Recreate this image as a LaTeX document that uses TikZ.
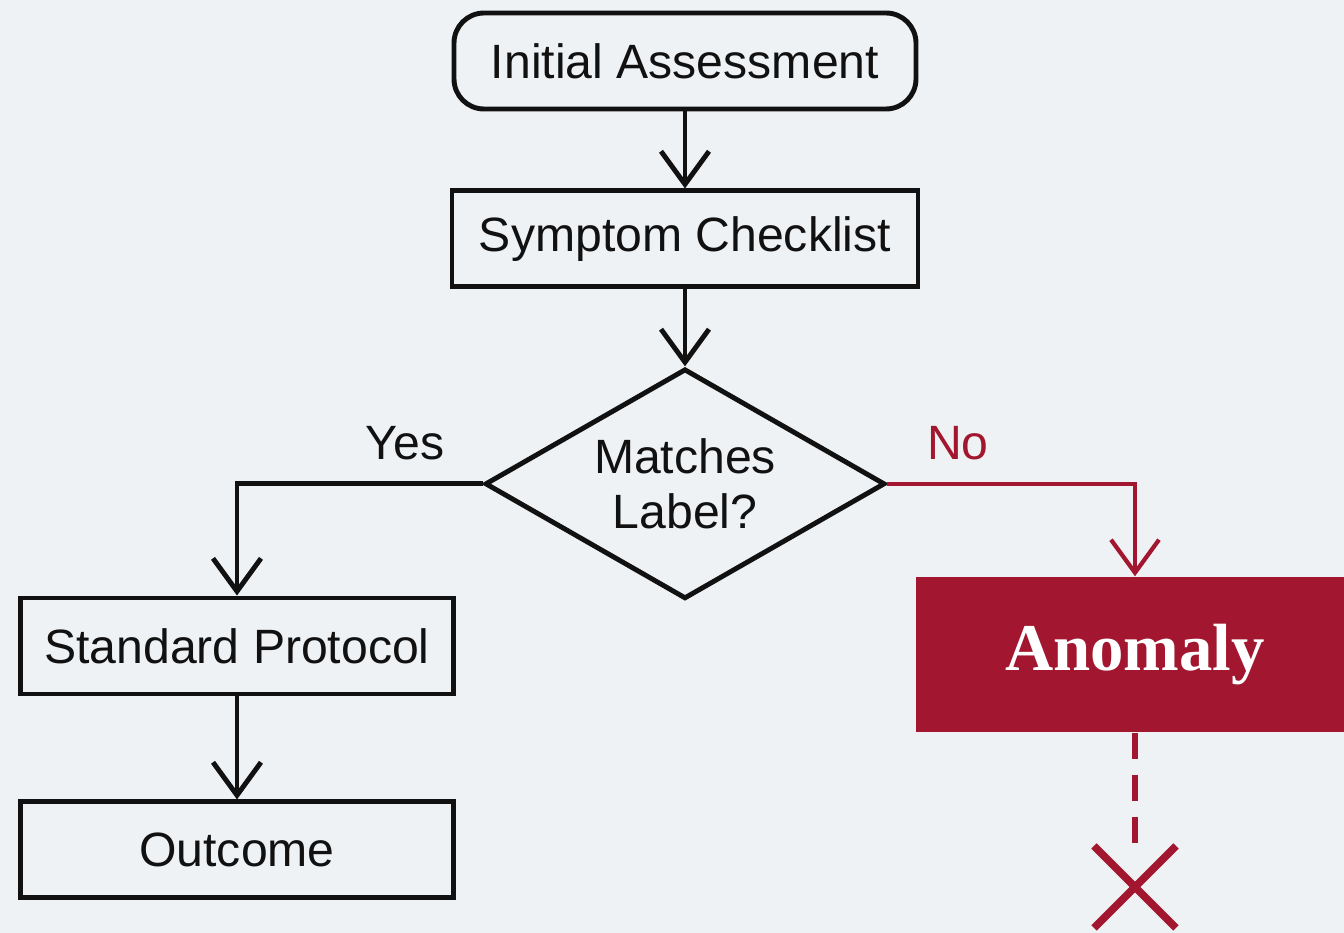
\documentclass[tikz,border=0pt]{standalone}
\usepackage{fontspec}
\setmainfont{Liberation Sans}
\newfontfamily\anomfont{Liberation Serif}
\usepackage{xcolor}
\usetikzlibrary{positioning,shapes.geometric,arrows.meta}
\definecolor{bgpaper}{HTML}{EFF2F5}
\definecolor{alarmred}{HTML}{A2172F}
\definecolor{inkblack}{HTML}{111111}

\begin{document}
\begin{tikzpicture}[node distance = 0mm,
  stepbox/.style = {draw=inkblack, line width=1.4pt, minimum width=4.62cm, minimum height=0.96cm, font=\fontsize{13.7}{16}\selectfont, text=inkblack},
  startbox/.style = {stepbox, rounded corners=0.3cm},
  decide/.style = {diamond, aspect=1.73, draw=inkblack, line width=1.4pt, minimum width=4.0cm, minimum height=2.3cm, align=center, inner sep=0pt, font=\fontsize{13.7}{15.6}\selectfont, text=inkblack},
  alarm/.style = {fill=alarmred, minimum width=4.38cm, minimum height=1.55cm, text=white, font=\anomfont\bfseries\fontsize{19}{22}\selectfont},
  flow/.style = {draw=inkblack, line width=1.4pt, -{Straight Barb[length=3.3mm,width=4.8mm]}},
  noflow/.style = {draw=alarmred, line width=1.2pt, -{Straight Barb[length=3.3mm,width=4.8mm]}},
  branch/.style = {font=\fontsize{13.7}{16}\selectfont}]
\fill[bgpaper] (0,0) rectangle (13.44,-9.33);
\useasboundingbox (0,0) rectangle (13.44,-9.33);
\node (init) [startbox] at (6.85,-0.61) {Initial Assessment};
\node (check) [stepbox, minimum width=4.66cm, below=0.77 of init] {Symptom Checklist};
\node (match) [decide, below=0.77 of check] {Matches\\Label?};
\node (std) [stepbox, minimum width=4.33cm] at (2.37,-6.46) {Standard Protocol};
\node (out) [stepbox, minimum width=4.33cm, below=1.03 of std] {Outcome};
\node (anom) [alarm] at (11.35,-6.545) {Anomaly};
\coordinate (halt) at (11.35,-8.87);
\draw[flow] (init) -- (check);
\draw[flow] (check) -- (match);
\draw[flow] (match.west) -| (std.north);
\draw[flow] (std) -- (out);
\draw[noflow] (match.east) -| (anom.north);
\node[branch, text=inkblack] at (4.05,-4.43) {Yes};
\node[branch, text=alarmred] at (9.58,-4.43) {No};
\draw[alarmred, line width=1.8pt, dash pattern=on 0.26cm off 0.16cm] (anom.south) -- ([yshift=0.44cm]halt);
\draw[alarmred, line width=2.2pt] ([shift={(-0.41,0.41)}]halt) -- ([shift={(0.41,-0.41)}]halt);
\draw[alarmred, line width=2.2pt] ([shift={(0.41,0.41)}]halt) -- ([shift={(-0.41,-0.41)}]halt);
\end{tikzpicture}
\end{document}
